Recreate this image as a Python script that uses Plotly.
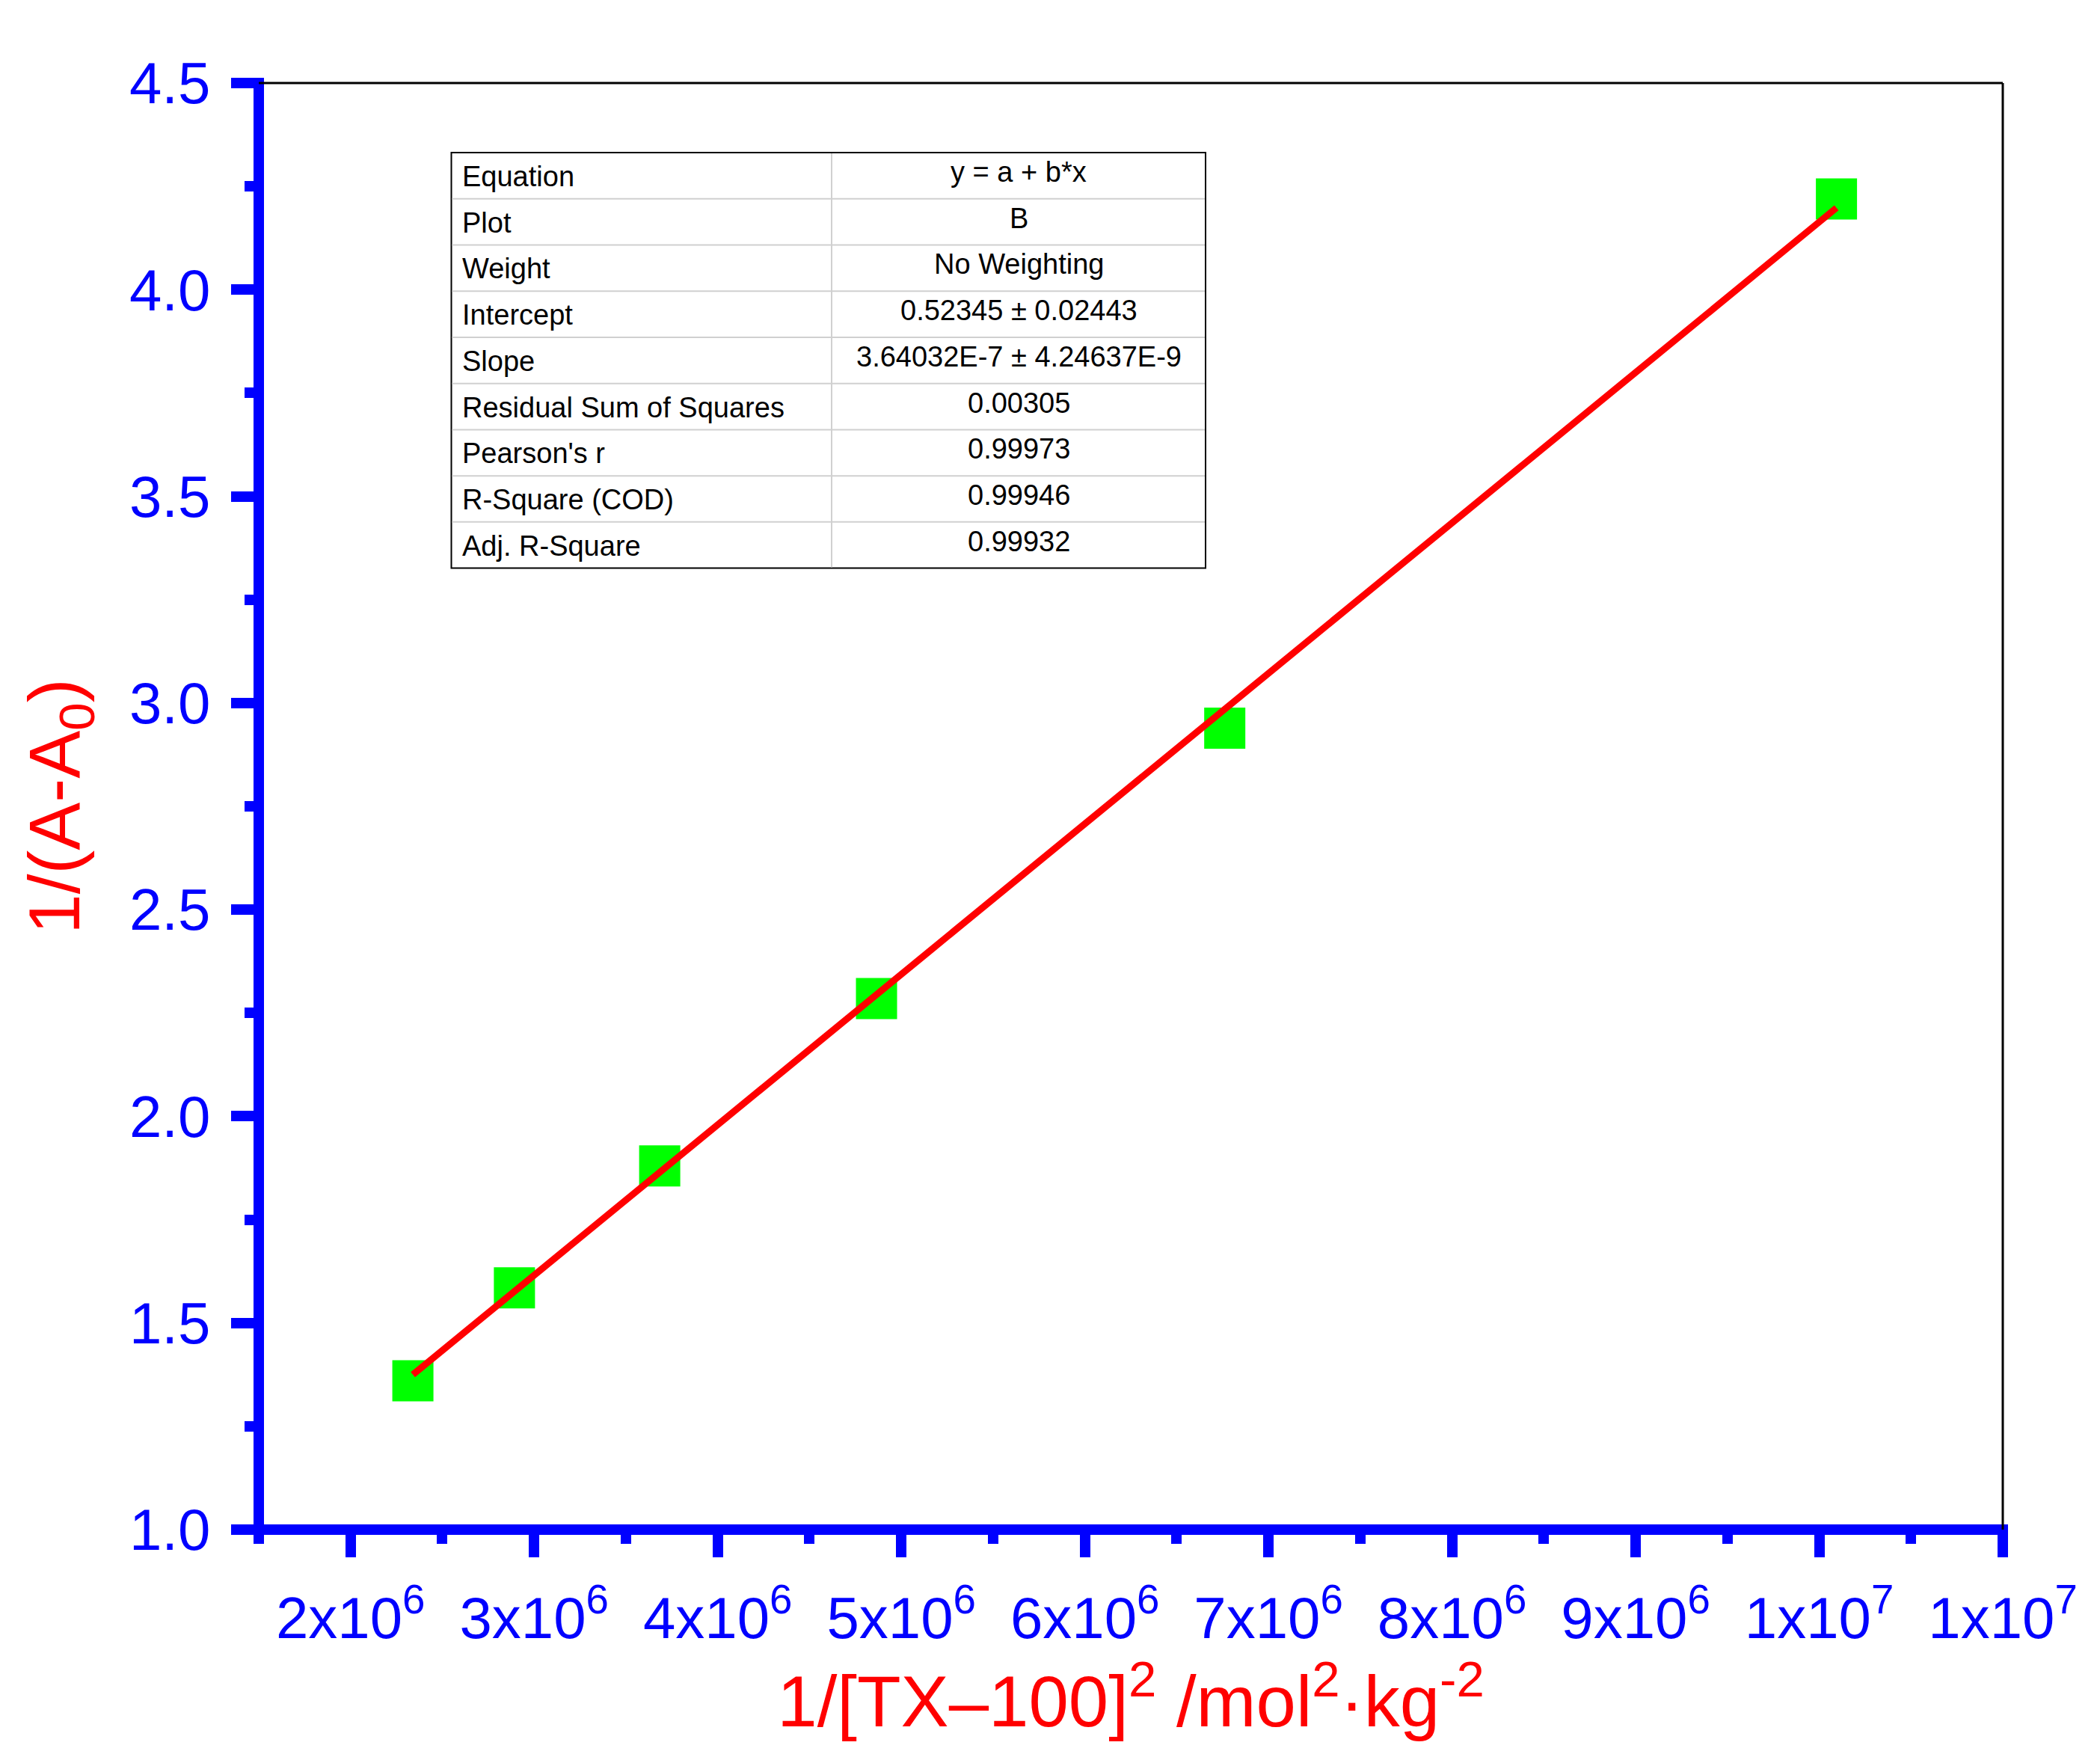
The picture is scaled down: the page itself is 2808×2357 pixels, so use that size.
import plotly.graph_objects as go

# ---------------- data ----------------
x_vals = [2.3395e6, 2.8927e6, 3.684e6, 4.865e6, 6.762e6, 10.094e6]
y_vals = [1.360, 1.585, 1.880, 2.285, 2.939, 4.2195]

fit_intercept = 0.52345
fit_slope = 3.64032e-7

x_tick_vals = [2e6, 3e6, 4e6, 5e6, 6e6, 7e6, 8e6, 9e6, 1e7, 1.1e7]
x_tick_text = ["2x10<sup>6</sup>", "3x10<sup>6</sup>", "4x10<sup>6</sup>", "5x10<sup>6</sup>",
               "6x10<sup>6</sup>", "7x10<sup>6</sup>", "8x10<sup>6</sup>", "9x10<sup>6</sup>",
               "1x10<sup>7</sup>", "1x10<sup>7</sup>"]
x_minor_vals = [1.5e6, 2.5e6, 3.5e6, 4.5e6, 5.5e6, 6.5e6, 7.5e6, 8.5e6, 9.5e6, 10.5e6]

table_labels = ["Equation", "Plot", "Weight", "Intercept", "Slope",
                "Residual Sum of Squares", "Pearson's r", "R-Square (COD)", "Adj. R-Square"]
table_values = ["y = a + b*x", "B", "No Weighting", "0.52345 \u00b1 0.02443",
                "3.64032E-7 \u00b1 4.24637E-9", "0.00305", "0.99973", "0.99946", "0.99932"]

# ---------------- layout geometry (page pixels) ----------------
W, H = 2808, 2357
BODY = 8                      # default HTML body margin
FW, FH = W - 2 * BODY, H - 2 * BODY
PL, PR, PT, PB = 346, 2678, 111, 2045
FONT = "Liberation Sans, Arial, sans-serif"
BLUE = "#0000FF"
RED = "#FF0000"


def px_x(p):
    return (p - PL) / (PR - PL)


def px_y(p):
    return (PB - p) / (PB - PT)


fig = go.Figure()

fig.add_trace(go.Scatter(
    x=x_vals, y=y_vals, mode="markers",
    marker=dict(symbol="square", size=55, color="#00FF00", line=dict(width=0)),
    showlegend=False, hoverinfo="x+y"))

x_line = [min(x_vals), max(x_vals)]
y_line = [fit_intercept + fit_slope * v for v in x_line]
fig.add_trace(go.Scatter(
    x=x_line, y=y_line, mode="lines",
    line=dict(color=RED, width=9),
    showlegend=False))

shapes = []
# blue thick axes
shapes.append(dict(type="line", xref="paper", yref="paper",
                   x0=0, x1=0, y0=px_y(PB + 7), y1=px_y(PT - 7),
                   line=dict(color=BLUE, width=14), layer="above"))
shapes.append(dict(type="line", xref="paper", yref="paper",
                   x0=px_x(PL - 7), x1=px_x(PR + 7), y0=0, y1=0,
                   line=dict(color=BLUE, width=14), layer="above"))
# thin black frame top/right
shapes.append(dict(type="line", xref="paper", yref="paper",
                   x0=0, x1=1, y0=1, y1=1, line=dict(color="black", width=3)))
shapes.append(dict(type="line", xref="paper", yref="paper",
                   x0=1, x1=1, y0=0, y1=1, line=dict(color="black", width=3)))

# ---- fit-result table ----
T_LEFT, T_MID, T_RIGHT = 603.5, 1112, 1612
T_TOP, T_BOT = 204, 759.6
n_rows = len(table_labels)
row_h = (T_BOT - T_TOP) / n_rows
GRAY = "#D0D0D0"
shapes.append(dict(type="rect", xref="paper", yref="paper",
                   x0=px_x(T_LEFT), x1=px_x(T_RIGHT), y0=px_y(T_BOT), y1=px_y(T_TOP),
                   line=dict(color="black", width=2), fillcolor="white", layer="above"))
for i in range(1, n_rows):
    yy = T_TOP + i * row_h
    shapes.append(dict(type="line", xref="paper", yref="paper",
                       x0=px_x(T_LEFT + 1), x1=px_x(T_RIGHT - 1), y0=px_y(yy), y1=px_y(yy),
                       line=dict(color=GRAY, width=2), layer="above"))
shapes.append(dict(type="line", xref="paper", yref="paper",
                   x0=px_x(T_MID), x1=px_x(T_MID), y0=px_y(T_BOT - 1), y1=px_y(T_TOP + 1),
                   line=dict(color=GRAY, width=2), layer="above"))

annotations = []
for i, (lab, val) in enumerate(zip(table_labels, table_values)):
    yc = T_TOP + (i + 0.5) * row_h
    annotations.append(dict(xref="paper", yref="paper", x=px_x(T_LEFT + 12), y=px_y(yc + 1),
                            text=lab, showarrow=False, xanchor="left", yanchor="middle",
                            font=dict(family=FONT, size=38, color="black")))
    annotations.append(dict(xref="paper", yref="paper", x=px_x((T_MID + T_RIGHT) / 2), y=px_y(yc - 5),
                            text=val, showarrow=False, xanchor="center", yanchor="middle",
                            font=dict(family=FONT, size=38, color="black")))

fig.update_layout(
    width=FW, height=FH,
    margin=dict(l=PL - BODY, r=FW - (PR - BODY), t=PT - BODY, b=FH - (PB - BODY),
                pad=0, autoexpand=False),
    paper_bgcolor="white", plot_bgcolor="white",
    shapes=shapes, annotations=annotations,
    showlegend=False,
    xaxis=dict(
        range=[1.5e6, 1.1e7], tickmode="array", tickvals=x_tick_vals, ticktext=x_tick_text,
        ticks="outside", ticklen=36, tickwidth=14, tickcolor=BLUE,
        showline=False, showgrid=False, zeroline=False,
        tickfont=dict(family=FONT, size=78, color=BLUE),
        ticklabelstandoff=14,
        minor=dict(tickmode="array", tickvals=x_minor_vals, ticks="outside",
                   ticklen=18, tickwidth=14, tickcolor=BLUE, showgrid=False),
        title=dict(text="1/[TX\u2013100]<sup>2</sup> /mol<sup>2</sup>\u00b7kg<sup>-2</sup>",
                   font=dict(family=FONT, size=96, color=RED), standoff=5),
        automargin=False,
    ),
    yaxis=dict(
        range=[1.0, 4.5], tickmode="linear", tick0=1.0, dtick=0.5, tickformat=".1f",
        ticks="outside", ticklen=36, tickwidth=14, tickcolor=BLUE,
        showline=False, showgrid=False, zeroline=False,
        tickfont=dict(family=FONT, size=78, color=BLUE),
        ticklabelstandoff=12,
        minor=dict(tick0=1.0, dtick=0.25, ticks="outside",
                   ticklen=18, tickwidth=14, tickcolor=BLUE, showgrid=False),
        title=dict(text="1/(A-A<sub>0</sub>)",
                   font=dict(family=FONT, size=96, color=RED), standoff=34),
        automargin=False,
    ),
)

fig.write_html("out.html")
